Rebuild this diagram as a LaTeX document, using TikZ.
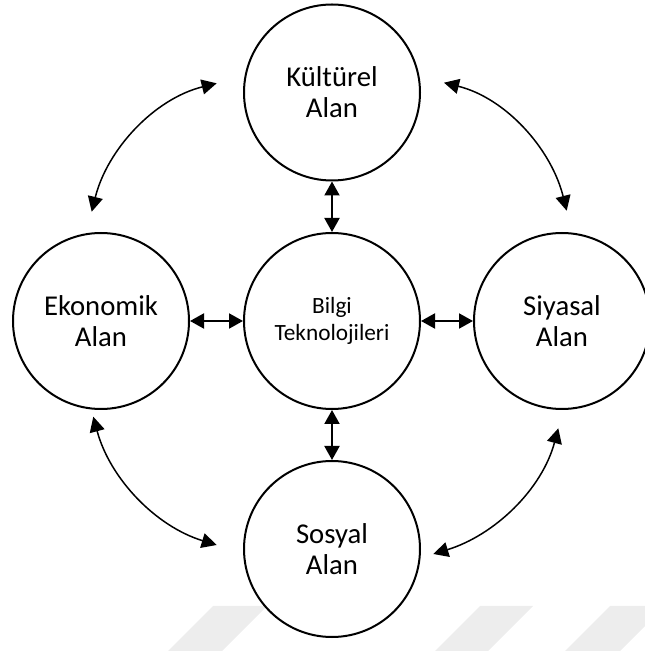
\documentclass[tikz,border=0pt]{standalone}
\usepackage{fontspec}
\setmainfont{Carlito}
\usetikzlibrary{arrows.meta}
\begin{document}
\begin{tikzpicture}[x=1pt,y=1pt,
  field/.style={circle, draw=black, line width=2pt, fill=white,
    minimum size=176pt, inner sep=0pt, align=center,
    font=\fontsize{28.7}{31}\selectfont},
  core/.style={field, font=\fontsize{23.3}{26.3}\selectfont},
  link/.style={line width=2pt,
    {Triangle[length=14pt,width=15pt]}-{Triangle[length=14pt,width=15pt]}},
  curvelink/.style={line width=1.5pt,
    {Triangle[length=15pt,width=15pt]}-{Triangle[length=15pt,width=15pt]}},
  stripe/.style={fill=black!7, draw=none}]
\useasboundingbox (0,0) rectangle (645,651);
\clip (0,0) rectangle (645,651);

% faint diagonal stripes in the lower right
\fill[stripe] (213,45) -- (267,45) -- (222,0) -- (168,0) -- cycle;
\fill[stripe] (480,45) -- (533,45) -- (488,0) -- (435,0) -- cycle;
\fill[stripe] (610,45) -- (665,45) -- (620,0) -- (565,0) -- cycle;

% the five fields
\node[field] (kul) at (332,558.5) {Kültürel\\Alan};
\node[core]  (bil) at (332,330)   {Bilgi\\Teknolojileri};
\node[field] (eko) at (101,330)   {Ekonomik\\Alan};
\node[field] (siy) at (562,330)   {Siyasal\\Alan};
\node[field] (sos) at (332,102)   {Sosyal\\Alan};

% links to the centre
\draw[link] (kul.south) -- (bil.north);
\draw[link] (eko.east)  -- (bil.west);
\draw[link] (bil.east)  -- (siy.west);
\draw[link] (bil.south) -- (sos.north);

% free ends of the outer arcs
\coordinate (tl1) at (216.7,567.7);
\coordinate (tl2) at (91.7,439.3);
\coordinate (tr1) at (444,568.3);
\coordinate (tr2) at (566.7,440.3);
\coordinate (bl1) at (93.3,234.3);
\coordinate (bl2) at (216.7,106);
\coordinate (br1) at (558.3,222.7);
\coordinate (br2) at (433.3,97);

% outer arcs between neighbouring fields
\draw[curvelink] (tl1) to[out=194,in=76,looseness=0.92] (tl2);
\draw[curvelink] (tr1) to[out=-14,in=104,looseness=0.92] (tr2);
\draw[curvelink] (bl1) to[out=-75,in=163,looseness=0.92] (bl2);
\draw[curvelink] (br1) to[out=255,in=17,looseness=0.92] (br2);
\end{tikzpicture}
\end{document}
